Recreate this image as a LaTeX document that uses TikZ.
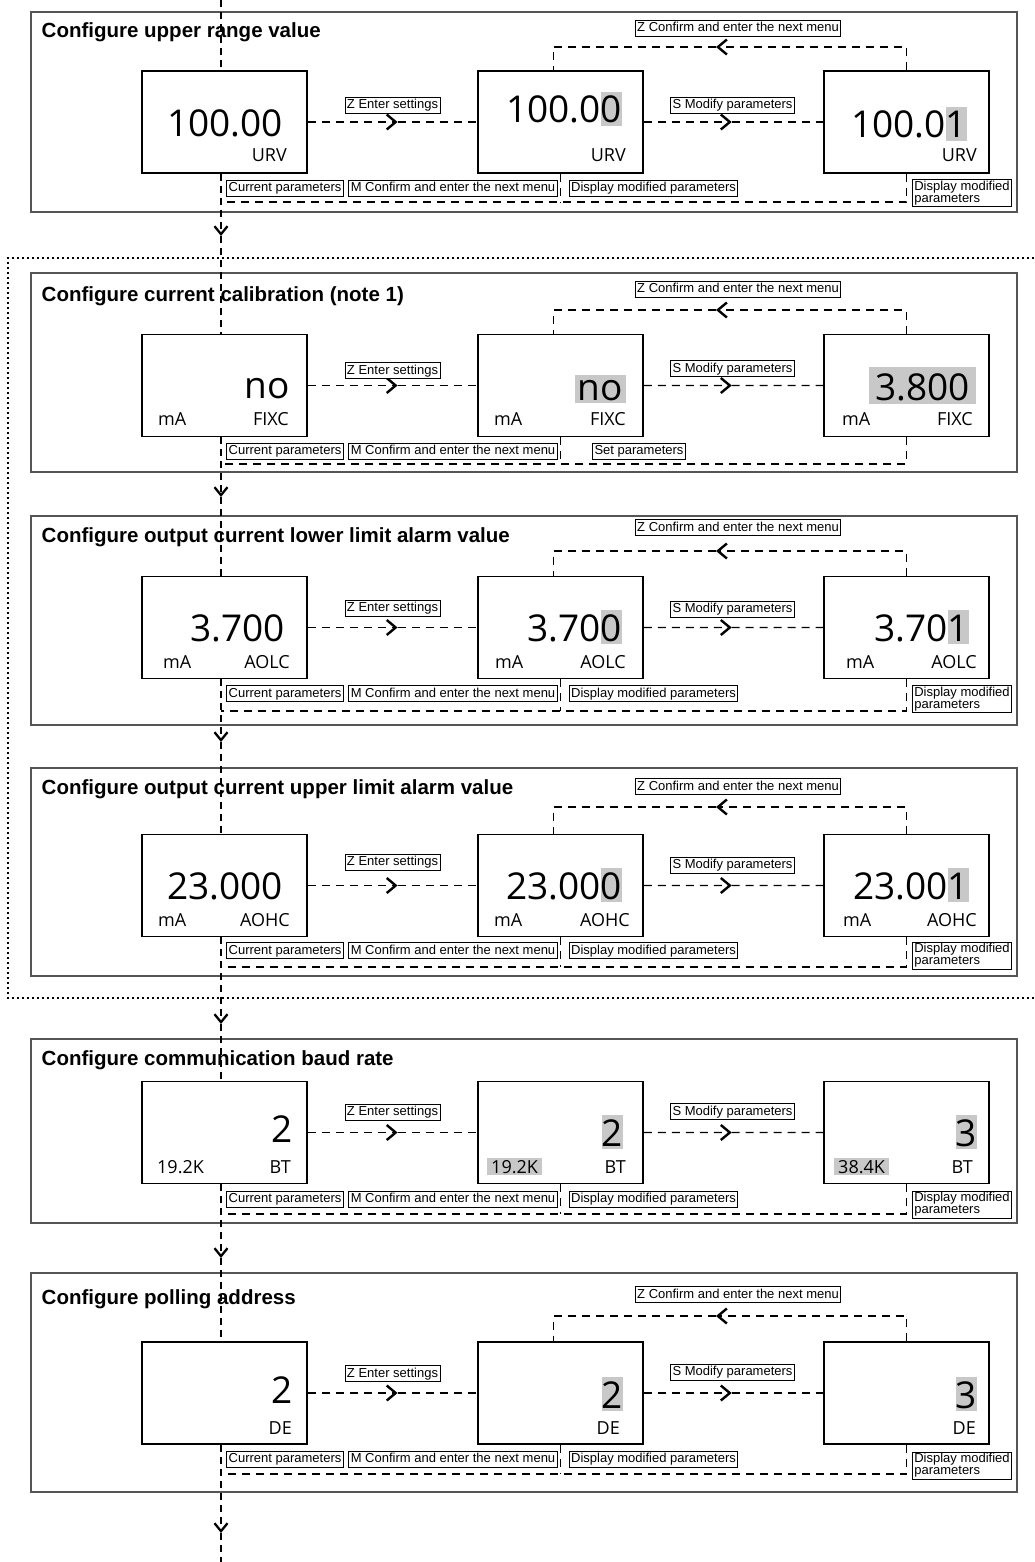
\documentclass[tikz,border=0pt]{standalone}
\usepackage{fontspec}
\setmainfont{Liberation Sans}
\newfontfamily\dispfont{Open Sans}
\usetikzlibrary{arrows.meta,calc}
\definecolor{hlgray}{RGB}{200,200,200}
\definecolor{framegray}{RGB}{85,85,85}
\newcommand\hlx[4]{{\setlength\fboxsep{0pt}\colorbox{hlgray}{\hspace{#1}\rule[-#2]{0pt}{#3}#4\hspace{#1}}}}
\newcommand\hd[1]{\hlx{0pt}{3pt}{34pt}{#1}}
\newcommand\hs[1]{\hlx{4pt}{2pt}{17pt}{#1}}
\tikzset{
  sec/.style={draw=framegray, line width=1.3pt},
  ttl/.style={anchor=base west, font=\fontsize{20.5}{24}\selectfont\bfseries, inner sep=0pt},
  disp/.style={draw, line width=1.5pt, fill=white, minimum width=165pt, minimum height=102pt, inner sep=0pt},
  big/.style={anchor=base east, font=\dispfont\fontsize{37}{40}\selectfont, inner sep=0pt},
  smr/.style={anchor=base east, font=\dispfont\fontsize{18}{20}\selectfont, inner sep=0pt},
  sml/.style={anchor=base west, font=\dispfont\fontsize{18}{20}\selectfont, inner sep=0pt},
  lbl/.style={draw, line width=0.8pt, fill=white, font=\fontsize{13}{13}\selectfont, inner xsep=2pt, inner ysep=2pt, text height=9.5pt, text depth=2.5pt},
  lbltwo/.style={draw, line width=0.8pt, fill=white, font=\fontsize{13}{10}\selectfont, align=left, inner xsep=2pt, inner ysep=1.5pt},
  dl/.style={line width=1.3pt, dash pattern=on 8pt off 6pt},
  ml/.style={line width=1.2pt, dash pattern=on 7pt off 5pt},
  dotbox/.style={line width=1.2pt, dash pattern=on 2pt off 3pt},
  htip/.style={-{Straight Barb[length=9pt,width=15pt,line width=2.4pt]}},
  vtip/.style={-{Straight Barb[length=8pt,width=13pt,line width=2.3pt]}},
}
\begin{document}
\begin{tikzpicture}[x=1pt,y=-1pt]
\useasboundingbox (0,0) rectangle (1034,1562);
% section frames
\draw[sec] (31,12) rectangle (1017,212);
\draw[sec] (31,273) rectangle (1017,472);
\draw[sec] (31,516) rectangle (1017,725);
\draw[sec] (31,768) rectangle (1017,976);
\draw[sec] (31,1039) rectangle (1017,1223);
\draw[sec] (31,1273) rectangle (1017,1492);
\draw[dotbox] (1034,258) -- (8,258) -- (8,998) -- (1034,998);
% titles
\node[ttl] (t1) at (41.5,38) {Configure upper range value};
\node[ttl] (t2) at (41.5,301) {Configure current calibration (note 1)};
\node[ttl] (t3) at (41.5,542) {Configure output current lower limit alarm value};
\node[ttl] (t4) at (41.5,794) {Configure output current upper limit alarm value};
\node[ttl] (t5) at (41.5,1065) {Configure communication baud rate};
\node[ttl] (t6) at (41.5,1304) {Configure polling address};
% main line coordinates
\coordinate (m0) at (221,0);
\coordinate (v1) at (221,236);
\coordinate (v2) at (221,497);
\coordinate (v3) at (221,742);
\coordinate (v4) at (221,1024);
\coordinate (v5) at (221,1258);
\coordinate (v6) at (221,1533);
\coordinate (m7) at (221,1562);
% display boxes
\foreach \s/\y in {1/122,2/385.5,3/627.5,4/885.5,5/1132.5,6/1393}{
  \node[disp] (a\s) at (224.5,\y) {};
  \node[disp] (b\s) at (560.5,\y) {};
  \node[disp] (c\s) at (906.5,\y) {};
}
% main line
\draw[ml] (m0) -- (a1.north -| m0);
\draw[ml,vtip] (a1.south -| m0) -- (v1);
\draw[ml] (v1) -- (a2.north -| m0);
\draw[ml,vtip] (a2.south -| m0) -- (v2);
\draw[ml] (v2) -- (a3.north -| m0);
\draw[ml,vtip] (a3.south -| m0) -- (v3);
\draw[ml] (v3) -- (a4.north -| m0);
\draw[ml,vtip] (a4.south -| m0) -- (v4);
\draw[ml] (v4) -- (a5.north -| m0);
\draw[ml,vtip] (a5.south -| m0) -- (v5);
\draw[ml] (v5) -- (a6.north -| m0);
\draw[ml,vtip] (a6.south -| m0) -- (v6);
\draw[ml] (v6) -- (m7);
% redraw boxes on top of main line
\foreach \s/\y in {1/122,2/385.5,3/627.5,4/885.5,5/1132.5,6/1393}{
  \node[disp] at (a\s) {};
}
% horizontal arrows
\foreach \s in {1,2,3,4,5,6}{
  \coordinate (e\s) at ($(a\s.east)!0.53!(b\s.west)$);
  \coordinate (f\s) at ($(b\s.east)!0.49!(c\s.west)$);
  \draw[dl,htip] (a\s.east) -- (e\s);
  \draw[dl] (e\s) -- (b\s.west);
  \draw[dl,htip] (b\s.east) -- (f\s);
  \draw[dl] (f\s) -- (c\s.west);
}
% top loops
\coordinate (l1) at (716,47);
\coordinate (l2) at (716,310);
\coordinate (l3) at (716,551);
\coordinate (l4) at (716,807);
\coordinate (l6) at (716,1316);
\foreach \s in {1,2,3,4,6}{
  \draw[dl,htip] (c\s.north) |- (l\s);
  \draw[dl] (l\s) -| ([xshift=-7pt]b\s.north);
}
% return lines
\coordinate (r1) at (221,202);
\coordinate (r2) at (221,464);
\coordinate (r3) at (221,711);
\coordinate (r4) at (221,967);
\coordinate (r5) at (221,1214);
\coordinate (r6) at (221,1474);
\foreach \s in {1,2,3,4,5,6}{
  \draw[dl] (c\s.south) |- (r\s);
  \draw[dl] (b\s.south) -- (b\s.south |- r\s);
}
% labels
\foreach \s/\ze/\sm/\bt in {1/105.5/105/188.5,2/370.5/368.5/451,3/608/609/693.5,4/862/865/950.5,5/1112/1111.5/1199,6/1373.5/1372/1459}{
  \node[lbl] (ze\s) at (392.5,\ze) {Z Enter settings};
  \node[lbl] (sm\s) at (732.5,\sm) {S Modify parameters};
  \node[lbl] (cp\s) at (285,\bt) {Current parameters};
  \node[lbl] (mc\s) at (453,\bt) {M Confirm and enter the next menu};
}
\foreach \s/\zc in {1/28.5,2/289,3/527.5,4/786.5,6/1294.5}{
  \node[lbl] (zc\s) at (738,\zc) {Z Confirm and enter the next menu};
}
\foreach \s/\bt/\rt in {1/188.5/193,3/693.5/699,4/950.5/955.5,5/1199/1204.5,6/1459/1465.5}{
  \node[lbl] (dm\s) at (653.5,\bt) {Display modified parameters};
  \node[lbltwo] (dr\s) at (962,\rt) {Display modified\\parameters};
}
\node[lbl] (sp2) at (639,451) {Set parameters};
% ---- display contents
% S1
\node[big] (n1a) at (283,137) {100.00};
\node[smr] (u1a) at (287,162) {URV};
\node[big] (n1b) at (622,123) {100.0\hd{0}};
\node[smr] (u1b) at (626,162) {URV};
\node[big] (n1c) at (967,138) {100.0\hd{1}};
\node[smr] (u1c) at (977,162) {URV};
% S2
\node[big] (n2a) at (290,398) {no};
\node[sml] (m2a) at (158,425) {mA};
\node[smr] (u2a) at (289,425) {FIXC};
\node[big] (n2b) at (626,400) {\hlx{3pt}{3pt}{28pt}{no}};
\node[sml] (m2b) at (494,425) {mA};
\node[smr] (u2b) at (626,425) {FIXC};
\node[big] (n2c) at (976,400) {\hlx{6pt}{4pt}{37pt}{3.800}};
\node[sml] (m2c) at (842,425) {mA};
\node[smr] (u2c) at (973,425) {FIXC};
% S3
\node[big] (n3a) at (285,641) {3.700};
\node[sml] (m3a) at (163,668) {mA};
\node[smr] (u3a) at (290,668) {AOLC};
\node[big] (n3b) at (622,641) {3.70\hd{0}};
\node[sml] (m3b) at (495,668) {mA};
\node[smr] (u3b) at (626,668) {AOLC};
\node[big] (n3c) at (969,641) {3.70\hd{1}};
\node[sml] (m3c) at (846,668) {mA};
\node[smr] (u3c) at (977,668) {AOLC};
% S4
\node[big] (n4a) at (283,899) {23.000};
\node[sml] (m4a) at (158,926) {mA};
\node[smr] (u4a) at (290,926) {AOHC};
\node[big] (n4b) at (622,899) {23.00\hd{0}};
\node[sml] (m4b) at (494,926) {mA};
\node[smr] (u4b) at (630,926) {AOHC};
\node[big] (n4c) at (969,899) {23.00\hd{1}};
\node[sml] (m4c) at (843,926) {mA};
\node[smr] (u4c) at (977,926) {AOHC};
% S5
\node[big] (n5a) at (293,1142) {2};
\node[sml] (m5a) at (157,1173) {19.2K};
\node[smr] (u5a) at (291,1173) {BT};
\node[big] (n5b) at (623,1146) {\hd{2}};
\node[sml] (m5b) at (487,1173) {\hs{19.2K}};
\node[smr] (u5b) at (626,1173) {BT};
\node[big] (n5c) at (977,1146) {\hd{3}};
\node[sml] (m5c) at (834,1173) {\hs{38.4K}};
\node[smr] (u5c) at (973,1173) {BT};
% S6
\node[big] (n6a) at (293,1403) {2};
\node[smr] (u6a) at (292,1434) {DE};
\node[big] (n6b) at (623,1408) {\hd{2}};
\node[smr] (u6b) at (620,1434) {DE};
\node[big] (n6c) at (977,1408) {\hd{3}};
\node[smr] (u6c) at (976,1434) {DE};
\end{tikzpicture}
\end{document}
